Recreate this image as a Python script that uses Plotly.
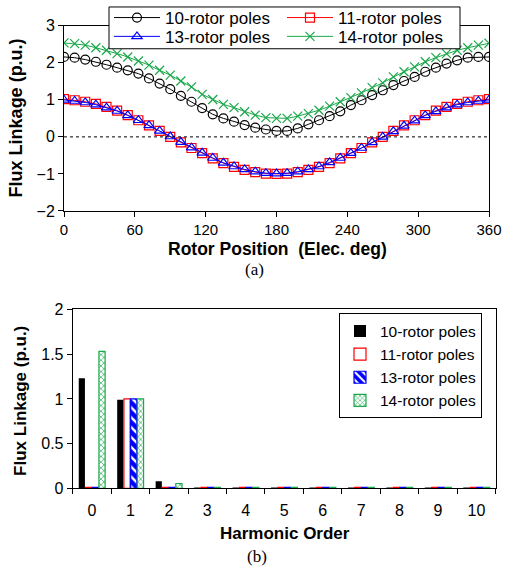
import plotly.graph_objects as go

# ---------------- data ----------------
angle = list(range(0, 361, 9))  # rotor position samples, elec. deg

flux10 = [2.16, 2.14, 2.09, 2.03, 1.95, 1.87, 1.80, 1.71, 1.58, 1.44,
          1.29, 1.11, 0.95, 0.78, 0.61, 0.50, 0.41, 0.32, 0.25, 0.20,
          0.16, 0.16, 0.23, 0.34, 0.45, 0.56, 0.69, 0.86, 0.99, 1.13,
          1.26, 1.40, 1.51, 1.62, 1.76, 1.87, 1.98, 2.07, 2.14, 2.16, 2.16]
flux11 = [1.02, 0.99, 0.95, 0.89, 0.81, 0.71, 0.59, 0.45, 0.31, 0.16,
          0.00, -0.15, -0.30, -0.44, -0.58, -0.71, -0.81, -0.89, -0.95, -0.99,
          -1.00, -0.99, -0.95, -0.89, -0.81, -0.71, -0.58, -0.44, -0.30, -0.15,
          0.00, 0.16, 0.31, 0.45, 0.59, 0.71, 0.81, 0.89, 0.95, 0.99, 1.02]
flux13 = [1.00, 0.97, 0.93, 0.87, 0.79, 0.70, 0.58, 0.45, 0.31, 0.16,
          0.01, -0.14, -0.29, -0.43, -0.57, -0.70, -0.80, -0.88, -0.94, -0.98,
          -0.99, -0.98, -0.94, -0.88, -0.80, -0.69, -0.57, -0.44, -0.30, -0.15,
          0.00, 0.15, 0.30, 0.44, 0.58, 0.69, 0.79, 0.87, 0.93, 0.97, 1.00]
flux14 = [2.54, 2.52, 2.48, 2.41, 2.34, 2.25, 2.16, 2.05, 1.94, 1.80,
          1.67, 1.51, 1.35, 1.15, 1.01, 0.88, 0.79, 0.68, 0.59, 0.52,
          0.50, 0.50, 0.56, 0.63, 0.72, 0.83, 0.95, 1.06, 1.19, 1.33,
          1.46, 1.62, 1.76, 1.89, 2.03, 2.14, 2.25, 2.34, 2.41, 2.48, 2.53]

harmonic = ["0", "1", "2", "3", "4", "5", "6", "7", "8", "9", "10"]
harm10 = [1.23, 0.99, 0.08, 0.002, 0.002, 0.002, 0.002, 0.002, 0.002, 0.002, 0.002]
harm11 = [0.012, 1.00, 0.012, 0.012, 0.012, 0.012, 0.012, 0.012, 0.012, 0.012, 0.012]
harm13 = [0.012, 1.00, 0.012, 0.012, 0.012, 0.012, 0.012, 0.012, 0.012, 0.012, 0.012]
harm14 = [1.53, 1.00, 0.055, 0.012, 0.012, 0.012, 0.012, 0.012, 0.012, 0.012, 0.012]

names = ["10-rotor poles", "11-rotor poles", "13-rotor poles", "14-rotor poles"]

W, H = 506, 570
FONT = "Liberation Sans, Arial, sans-serif"
SERIF = "Liberation Serif, Times New Roman, serif"
GREEN = "#1aa84a"

fig = go.Figure()

# ---------------- top: flux linkage waveforms ----------------
line_specs = [
    (flux10, "black", "circle-open", "legend"),
    (flux11, "red", "square-open", "legend"),
    (flux13, "blue", "triangle-up-open", "legend3"),
    (flux14, GREEN, "x-thin-open", "legend3"),
]
for (vals, col, sym, lg), nm in zip(line_specs, names):
    fig.add_trace(go.Scatter(
        x=angle, y=vals, name=nm, mode="lines+markers",
        line=dict(color=col, width=1),
        marker=dict(symbol=sym, size=9, color=col, line=dict(color=col, width=1.2)),
        xaxis="x", yaxis="y", legend=lg,
    ))

# ---------------- bottom: harmonic spectrum ----------------
fig.add_trace(go.Bar(
    x=harmonic, y=harm10, name=names[0], xaxis="x2", yaxis="y2", legend="legend2",
    marker=dict(color="black", line=dict(width=0)),
))
fig.add_trace(go.Bar(
    x=harmonic, y=harm11, name=names[1], xaxis="x2", yaxis="y2", legend="legend2",
    marker=dict(color="white", line=dict(color="red", width=1.2)),
))
fig.add_trace(go.Bar(
    x=harmonic, y=harm13, name=names[2], xaxis="x2", yaxis="y2", legend="legend2",
    marker=dict(color="blue", line=dict(color="blue", width=1.2),
                pattern=dict(shape="\\", fgcolor="white", bgcolor="blue",
                             size=7, solidity=0.35, fillmode="replace")),
))
fig.add_trace(go.Bar(
    x=harmonic, y=harm14, name=names[3], xaxis="x2", yaxis="y2", legend="legend2",
    marker=dict(color="white", line=dict(color=GREEN, width=1.2),
                pattern=dict(shape="x", fgcolor=GREEN, bgcolor="white",
                             size=4, solidity=0.3, fillmode="replace")),
))

axis_common = dict(
    showline=True, linecolor="black", linewidth=1, mirror=True,
    ticks="outside", ticklen=5, tickcolor="black", tickwidth=1,
    showgrid=False, zeroline=False, automargin=False,
    tickfont=dict(family=FONT, size=16, color="black"),
)


def ann(text, x, y, size, family=FONT, angle=0):
    return dict(text=text, xref="paper", yref="paper", x=x / W, y=1 - y / H,
                xanchor="center", yanchor="middle", textangle=angle,
                showarrow=False, font=dict(family=family, size=size, color="black"))


top_legend = dict(
    orientation="h", x=109 / W, xanchor="left", yanchor="middle",
    bgcolor="rgba(0,0,0,0)", borderwidth=0,
    font=dict(family=FONT, size=17, color="black"),
    entrywidth=112, itemwidth=46, tracegroupgap=0,
)

fig.update_layout(
    width=W, height=H,
    margin=dict(l=0, r=0, t=0, b=0),
    paper_bgcolor="white", plot_bgcolor="white",
    showlegend=True,
    barmode="group", bargap=0.3, bargroupgap=0.08,
    xaxis=dict(axis_common, domain=[64 / W, 489 / W], range=[0, 360],
               tickmode="array", tickvals=[0, 60, 120, 180, 240, 300, 360],
               tickfont=dict(family=FONT, size=15, color="black"),
               anchor="y"),
    yaxis=dict(axis_common, domain=[1 - 209 / H, 1 - 23 / H], range=[-2, 3],
               tickmode="array", tickvals=[-2, -1, 0, 1, 2, 3], anchor="x"),
    xaxis2=dict(axis_common, domain=[72.7 / W, 495.7 / W], type="category",
                range=[-0.5, 10.5], tickson="boundaries", anchor="y2",
                ticklabelstandoff=7),
    yaxis2=dict(axis_common, domain=[1 - 488 / H, 1 - 308 / H], range=[0, 2],
                tickmode="array", tickvals=[0, 0.5, 1, 1.5, 2],
                ticktext=["0", "0.5", "1", "1.5", "2"], anchor="x2"),
    legend=dict(top_legend, y=1 - 15 / H),
    legend3=dict(top_legend, y=1 - 34 / H),
    legend2=dict(
        orientation="v", x=339 / W, y=1 - 312 / H, xanchor="left", yanchor="top",
        bgcolor="white", bordercolor="black", borderwidth=1,
        font=dict(family=FONT, size=15.5, color="black"),
        itemwidth=30, tracegroupgap=0,
    ),
    shapes=[
        dict(type="line", xref="x domain", yref="y", x0=0, x1=1, y0=0, y1=0,
             line=dict(color="black", width=1, dash="dot")),
        dict(type="rect", xref="paper", yref="paper", layer="above",
             x0=109 / W, x1=460 / W, y0=1 - 46 / H, y1=1 - 4 / H,
             fillcolor="white", line=dict(color="black", width=1)),
    ],
    annotations=[
        ann("<b>Flux Linkage (p.u.)</b>", 16, 116, 18, angle=-90),
        ann("<b>Rotor Position  (Elec. deg)</b>", 277, 247, 17.5),
        ann("(a)", 254, 268, 17, family=SERIF),
        ann("<b>Flux Linkage (p.u.)</b>", 21, 400, 17, angle=-90),
        ann("<b>Harmonic Order</b>", 285, 533, 17),
        ann("(b)", 257, 556, 17, family=SERIF),
    ],
)

fig.write_html("out.html", config={"displayModeBar": False},
               post_script="document.body.style.margin='0';")
